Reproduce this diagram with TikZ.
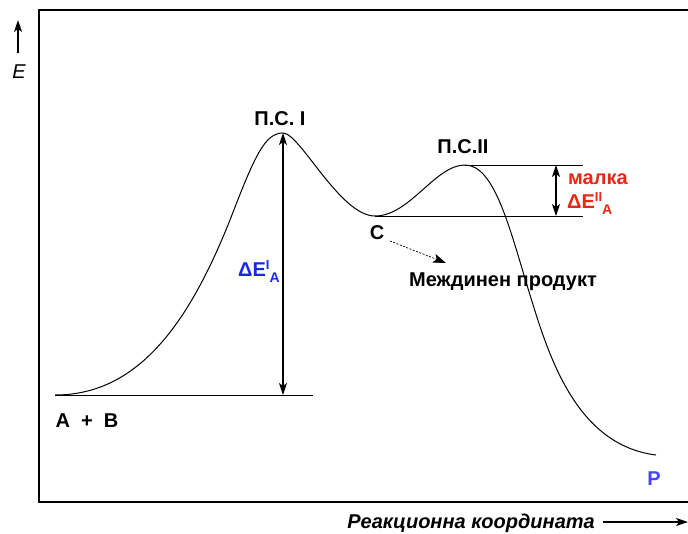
\documentclass[tikz,border=0pt]{standalone}
\usepackage{fontspec}
\setmainfont{Liberation Sans}
\usetikzlibrary{arrows.meta}
\definecolor{lblred}{RGB}{230,40,20}
\definecolor{lblblue}{RGB}{25,40,230}
\definecolor{pblue}{RGB}{70,70,250}
\tikzset{
  lbl/.style={font=\bfseries\fontsize{20}{24}\selectfont, inner sep=0pt},
  thinln/.style={line width=1pt},
  tip/.style={-{Stealth[length=12pt,width=8pt,inset=3pt]}},
  dbl/.style={line width=1.2pt, {Stealth[length=12pt,width=8pt,inset=3pt]}-{Stealth[length=12pt,width=8pt,inset=3pt]}},
}
\newcommand{\subA}{\raisebox{-6pt}{\fontsize{14}{16}\selectfont A}}
\newcommand{\supI}[1]{\raisebox{7pt}{\fontsize{13}{15}\selectfont #1}}
\begin{document}
\begin{tikzpicture}[x=1pt,y=-1pt]
\useasboundingbox (0,0) rectangle (688,533);
% frame
\draw[line width=2pt] (700,10) -- (39,10) -- (39,502) -- (700,502);
% axis E
\coordinate (eb) at (18,53);
\coordinate (et) at (18,20);
\draw[line width=1.5pt, tip] (eb) -- (et);
\node[font=\itshape\fontsize{20}{24}\selectfont, inner sep=0pt] (E) at (19,72) {E};
% x axis label
\node[lbl, font=\bfseries\itshape\fontsize{20}{24}\selectfont, anchor=east] (rc) at (595,523) {Реакционна координата};
\coordinate (xs) at (603,522);
\coordinate (xa) at (688,522);
\draw[line width=1.2pt, tip] (xs) -- (xa);
% curve
\coordinate (R) at (55,395);
\coordinate (TS1) at (283,133);
\coordinate (Cm) at (375,216);
\coordinate (TS2) at (465,165);
\coordinate (Pend) at (656,455);
\draw[thinln] (R) .. controls (140,395) and (190,320) .. (230,220)
  .. controls (255,155) and (265,133) .. (TS1)
  .. controls (300,133) and (340,216) .. (Cm)
  .. controls (410,216) and (435,165) .. (TS2)
  .. controls (495,165) and (510,230) .. (530,295)
  .. controls (548,353) and (575,445) .. (Pend);
% horizontal reference lines
\coordinate (h1e) at (313,395);
\coordinate (h2e) at (583,165);
\coordinate (h3e) at (583,216);
\draw[thinln] (R) -- (h1e);
\draw[thinln] (TS2) -- (h2e);
\draw[thinln] (Cm) -- (h3e);
% arrows
\coordinate (a1b) at (283,395);
\draw[dbl] (a1b) -- (TS1);
\coordinate (a2t) at (556,165);
\coordinate (a2b) at (556,216);
\draw[dbl] (a2t) -- (a2b);
% labels
\node[lbl] (ps1) at (280,119) {П.С. I};
\node[lbl] (ps2) at (463,147) {П.С.II};
\node[lbl, text=lblred, anchor=west] (malka) at (568,179) {малка};
\node[lbl, text=lblred, anchor=west] (dE2) at (567,204) {ΔE\supI{II}\subA};
\node[lbl, text=lblblue, anchor=west] (dE1) at (238,272) {ΔE\supI{I}\subA};
\node[lbl] (C) at (377,233) {C};
\node[lbl] (mp) at (503,282) {Междинен продукт};
\coordinate (ds) at (390,241);
\coordinate (de) at (446,263);
\draw[line width=0.7pt, dash pattern=on 2pt off 1.5pt, -{Stealth[length=13pt,width=9pt,inset=3pt]}] (ds) -- (de);
\node[lbl] (AB) at (87,421) {A\hspace{11pt}+\hspace{11pt}B};
\node[lbl, text=pblue] (P) at (654,479) {P};
\end{tikzpicture}
\end{document}
